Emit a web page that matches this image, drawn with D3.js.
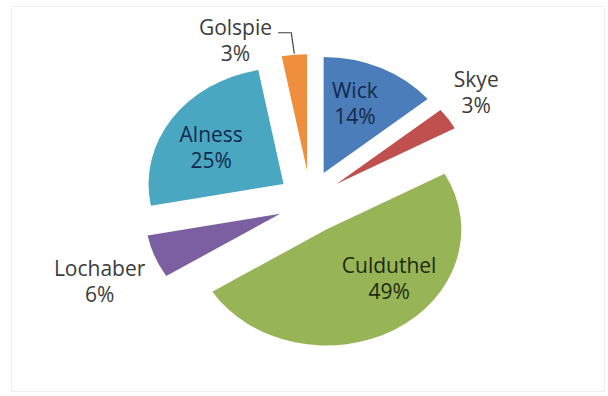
<!DOCTYPE html>
<html>
<head>
<meta charset="utf-8">
<script src="https://cdn.jsdelivr.net/npm/d3@7"></script>
<style>
  body { margin: 0; background: #fff; }
  svg text { font-family: "Open Sans", sans-serif; }
</style>
</head>
<body>
<div id="chart"></div>
<script>
// chart data
var sites = ["Wick", "Skye", "Culduthel", "Lochaber", "Alness", "Golspie"];
var shares = [14, 3, 49, 6, 25, 3];
var sliceColors = ["#4a7dba", "#c0504d", "#97b556", "#7c5fa0", "#49a7c2", "#ef8f3e"];

var width = 608, height = 396;

var svg = d3.select("#chart").append("svg")
    .attr("width", width)
    .attr("height", height);

// faint frame round the chart area
svg.append("rect")
    .attr("x", 11.5).attr("y", 6.5)
    .attr("width", 593).attr("height", 385)
    .attr("fill", "none")
    .attr("stroke", "#efefef");

// pie is drawn a bit wider than tall, like the stretched screenshot
var cx = 310, cy = 202;
var rx = 135, ry = 116;
var explode = 32;

var pie = d3.pie().sort(null).value(function(d){ return d; })
    .startAngle(0).endAngle(2 * Math.PI);
var arcs = pie(shares);

var arc = d3.arc().innerRadius(0).outerRadius(ry);

function mid(d){ return (d.startAngle + d.endAngle) / 2; }

// vertex of each exploded slice
function vertex(d){
    var a = mid(d);
    return [cx + explode * Math.sin(a), cy - explode * Math.cos(a)];
}

// point on the (elliptic) slice at radius factor r, angle a
function polar(d, r, a){
    var v = vertex(d);
    return [v[0] + r * rx * Math.sin(a), v[1] - r * ry * Math.cos(a)];
}

var slices = svg.selectAll(".slice")
    .data(arcs)
    .enter()
    .append("g")
    .attr("class", "slice")
    .attr("transform", function(d){
        var v = vertex(d);
        return "translate(" + v[0] + "," + v[1] + ")";
    });

slices.append("path")
    .attr("d", arc)
    .attr("transform", "scale(" + (rx / ry) + ",1)")
    .attr("fill", function(d, i){ return sliceColors[i]; });

// label layout: radius factor and angle shift (degrees) from the bisector
var labelLayout = {
    "Wick":      {r: 0.64, shift: -4,  color: "#14294a"},
    "Skye":      {r: 1.30, shift: -3,  color: "#3b3b3b"},
    "Culduthel": {r: 0.63, shift: -17, color: "#1c2a0c"},
    "Lochaber":  {r: 1.46, shift: -2,  color: "#3b3b3b"},
    "Alness":    {r: 0.62, shift: -4,  color: "#14294a"},
    "Golspie":   {r: 1.235, shift: -20, color: "#3b3b3b", leader: true}
};

var lineGap = 26;

arcs.forEach(function(d, i){
    var name = sites[i];
    var lay = labelLayout[name];
    var p = polar(d, lay.r, mid(d) + lay.shift * Math.PI / 180);

    var t = svg.append("text")
        .attr("text-anchor", "middle")
        .attr("font-size", 21)
        .attr("fill", lay.color);
    t.append("tspan").attr("x", p[0]).attr("y", p[1] - 5.5).text(name);
    t.append("tspan").attr("x", p[0]).attr("y", p[1] - 5.5 + lineGap).text(shares[i] + "%");

    // Golspie label sits away from its slice, so it gets a leader line
    if (lay.leader) {
        var w = t.select("tspan").node().getComputedTextLength();
        var end = polar(d, 1, mid(d));
        var x0 = p[0] + w / 2 + 6, y0 = p[1] - 8;
        svg.append("polyline")
            .attr("points", [[x0, y0], [end[0] - 3, y0], [end[0], end[1] - 1]].join(" "))
            .attr("fill", "none")
            .attr("stroke", "#404040")
            .attr("stroke-width", 1.2);
    }
});
</script>
</body>
</html>
